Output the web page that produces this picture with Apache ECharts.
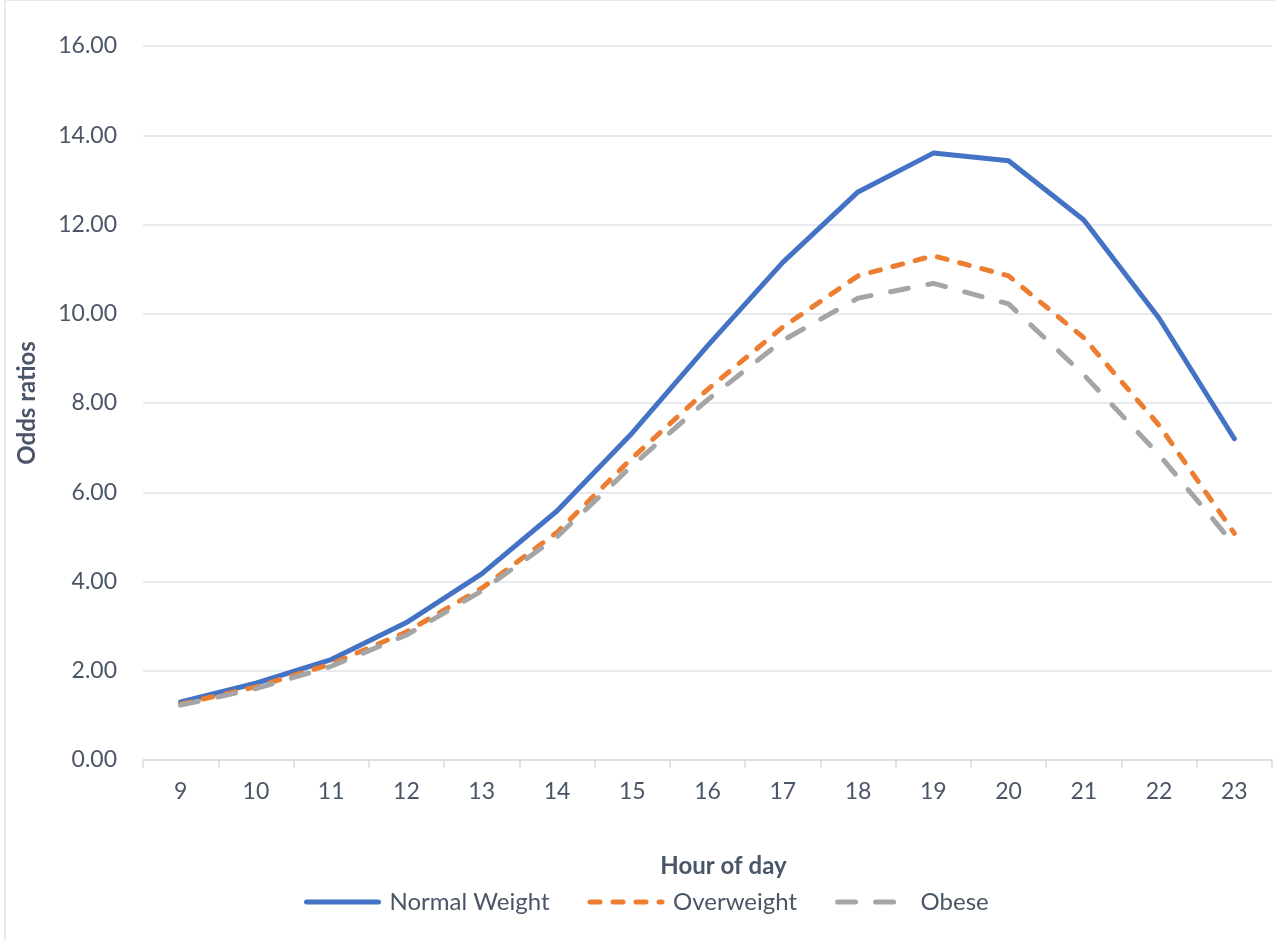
<!DOCTYPE html>
<html><head><meta charset="utf-8">
<script src="https://cdn.jsdelivr.net/npm/echarts@6/dist/echarts.min.js"></script>
<style>html,body{margin:0;padding:0;background:#fff}#c{width:1275px;height:940px}</style>
</head><body><div id="c"></div>
<script>
const hours = ['9','10','11','12','13','14','15','16','17','18','19','20','21','22','23'];
const normalWeight = [1.30,1.72,2.25,3.08,4.17,5.58,7.33,9.28,11.15,12.73,13.60,13.43,12.10,9.90,7.20];
const overweight   = [1.25,1.64,2.15,2.87,3.85,5.10,6.77,8.30,9.70,10.85,11.30,10.85,9.46,7.50,5.08];
const obese        = [1.23,1.60,2.10,2.80,3.79,5.00,6.60,8.07,9.40,10.35,10.68,10.22,8.63,6.84,4.82];
const yTicks = [0,2,4,6,8,10,12,14,16];

const txt = '#4a5568';
const font = 'Lato, "Open Sans", sans-serif';
const chart = echarts.init(document.getElementById('c'));
chart.setOption({
  animation:false,
  graphic:[{type:'rect',shape:{x:5,y:0,width:1290,height:960},style:{fill:'none',stroke:'#dfe3ea',lineWidth:1.5},silent:true}],
  grid:{left:143,right:3,top:46,bottom:180},
  legend:{top:885,left:299,itemWidth:72,itemHeight:14,itemGap:38,
    itemStyle:{opacity:0},
    lineStyle:{width:5,cap:'round'},
    textStyle:{color:txt,fontSize:24,fontFamily:font,padding:[0,0,0,6]},
    data:['Normal Weight','Overweight','Obese']},
  xAxis:{type:'category',data:hours,boundaryGap:true,
    name:'Hour of day',nameLocation:'middle',nameGap:94,
    nameTextStyle:{color:txt,fontSize:24,fontWeight:'bold',fontFamily:font,padding:[0,0,0,32]},
    axisLine:{lineStyle:{color:'#d9dde4',width:1.5}},
    axisTick:{show:true,alignWithLabel:false,length:8,lineStyle:{color:'#d9dde4',width:1.5}},
    axisLabel:{color:txt,fontSize:23,fontFamily:font,margin:20}},
  yAxis:{type:'value',min:0,max:16,interval:2,
    name:'Odds ratios',nameLocation:'middle',nameGap:104,nameRotate:90,
    nameTextStyle:{color:txt,fontSize:24,fontWeight:'bold',fontFamily:font},
    axisLine:{show:false},axisTick:{show:false},
    splitLine:{lineStyle:{color:'#dfe3ea',width:1.5}},
    axisLabel:{color:txt,fontSize:23,fontFamily:font,margin:26,
      formatter:v=>yTicks.includes(v)?v.toFixed(2):''}},
  series:[
    {name:'Normal Weight',type:'line',data:normalWeight,symbol:'none',
      lineStyle:{color:'#4472C4',width:5,cap:'round'},itemStyle:{color:'#4472C4'}},
    {name:'Overweight',type:'line',data:overweight,symbol:'none',
      lineStyle:{color:'#ED7D31',width:5,type:[10,13],cap:'round'},itemStyle:{color:'#ED7D31'}},
    {name:'Obese',type:'line',data:obese,symbol:'none',
      lineStyle:{color:'#A5A5A5',width:5,type:[18,20],cap:'round'},itemStyle:{color:'#A5A5A5'}}
  ]
});
</script></body></html>
